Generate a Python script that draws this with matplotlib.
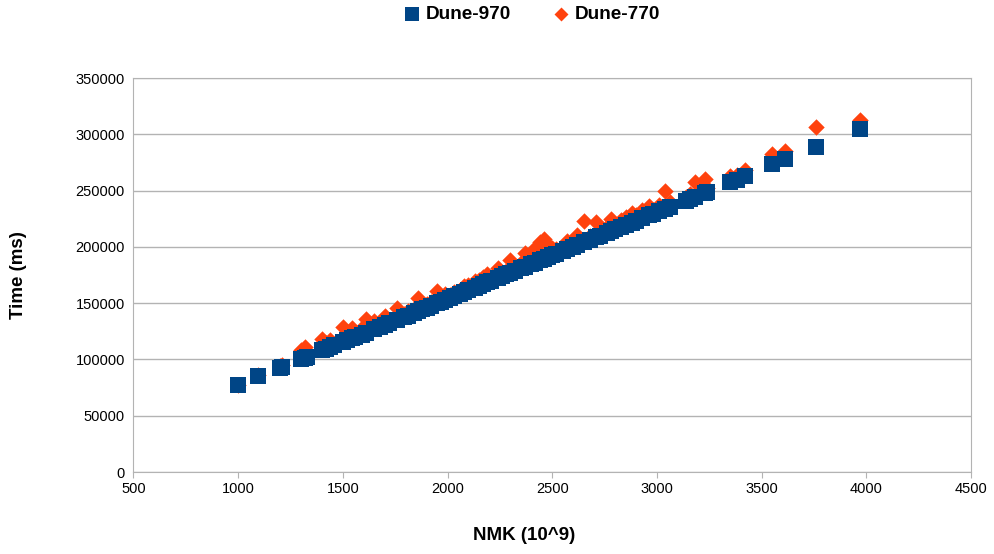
import matplotlib.pyplot as plt

plt.rcParams['font.family'] = ['Liberation Sans', 'DejaVu Sans']

# NMK (10^9) and time (ms) per run
nmk = [1000, 1095, 1200, 1210, 1300, 1320, 1330, 1400, 1420, 1440, 1460, 1500,
       1520, 1545, 1560, 1590, 1610, 1650, 1680, 1700, 1720, 1760, 1790, 1810,
       1840, 1860, 1880, 1900, 1920, 1950, 1970, 1990, 2010, 2030, 2060, 2080,
       2100, 2130, 2150, 2170, 2190, 2210, 2240, 2260, 2280, 2300, 2320, 2350,
       2370, 2400, 2420, 2440, 2460, 2480, 2500, 2520, 2550, 2570, 2600, 2620,
       2650, 2680, 2710, 2730, 2760, 2780, 2800, 2830, 2850, 2880, 2900, 2930,
       2960, 2980, 3010, 3040, 3060, 3140, 3160, 3180, 3230, 3240, 3350, 3380,
       3420, 3550, 3610, 3760, 3970]

dune_970 = [77000, 85000, 92000, 93500, 100500, 101500, 102000, 108000, 109500,
            111000, 112500, 115500, 117000, 119000, 120000, 122000, 123500,
            127000, 129000, 130500, 132000, 135500, 137500, 139000, 141500,
            143000, 144500, 146000, 147500, 150000, 151500, 153000, 154500,
            156000, 158500, 160000, 161500, 163500, 165000, 167000, 168500,
            170000, 172000, 174000, 175500, 177000, 178500, 181000, 182500,
            184500, 186000, 188000, 189500, 191000, 192500, 194000, 196500,
            198000, 200000, 201500, 204000, 206000, 208500, 210000, 212500,
            214000, 215500, 218000, 219500, 221500, 223000, 225500, 228000,
            229500, 231500, 234000, 235500, 241000, 242500, 244000, 248000,
            249000, 257500, 259500, 263000, 273500, 278000, 289000, 305000]

dune_770 = [77500, 86000, 94000, 95000, 108000, 111000, 104000, 118000, 115000,
            117000, 114000, 129000, 124000, 128000, 123000, 128000, 136000,
            134000, 131000, 139000, 135000, 146000, 140000, 143000, 145000,
            155000, 148000, 149000, 151000, 161000, 155000, 158000, 157000,
            160000, 162000, 165000, 166000, 170000, 171000, 173000, 176000,
            172000, 181000, 177000, 179000, 188000, 183000, 186000, 195000,
            190000, 199000, 204000, 207000, 202000, 199000, 198000, 201000,
            205000, 206000, 211000, 223000, 210000, 222000, 214000, 218000,
            225000, 220000, 224000, 227000, 230000, 228000, 233000, 236000,
            233000, 237000, 250000, 240000, 244000, 247000, 258000, 260000,
            252000, 263000, 264000, 268000, 283000, 285000, 307000, 313000]

fig = plt.figure(figsize=(9.95, 5.54), dpi=100)
ax = fig.add_axes([0.134, 0.148, 0.842, 0.711])

ax.scatter(nmk, dune_770, marker='D', s=70, color='#ff420e', linewidths=0,
           label='Dune-770', zorder=2)
ax.scatter(nmk, dune_970, marker='s', s=130, color='#004586', linewidths=0,
           label='Dune-970', zorder=3)

ax.set_xlim(500, 4500)
ax.set_ylim(0, 350000)
ax.set_xticks(range(500, 4501, 500))
ax.set_yticks(range(0, 350001, 50000))
ax.yaxis.grid(True, color='#b3b3b3', linewidth=1)
ax.set_axisbelow(True)
for sp in ax.spines.values():
    sp.set_color('#b3b3b3')
ax.tick_params(axis='both', labelsize=10.5, colors='#b3b3b3', labelcolor='black')
ax.tick_params(axis='y', length=0, pad=6)
ax.tick_params(axis='x', length=4)

fig.text(0.527, 0.034, 'NMK (10^9)', fontsize=13.5, fontweight='bold',
         ha='center', va='center')
fig.text(0.019, 0.504, 'Time (ms)', fontsize=13.5, fontweight='bold',
         ha='center', va='center', rotation=90)

handles, labels = ax.get_legend_handles_labels()
fig.legend(handles[::-1], labels[::-1], loc='center',
           bbox_to_anchor=(0.533, 0.975), ncol=2, frameon=False,
           prop={'weight': 'bold', 'size': 13.7}, handletextpad=0.15,
           handlelength=1.2, columnspacing=2.0, scatterpoints=1,
           markerscale=0.85)

fig.savefig('out.png', dpi=100)
